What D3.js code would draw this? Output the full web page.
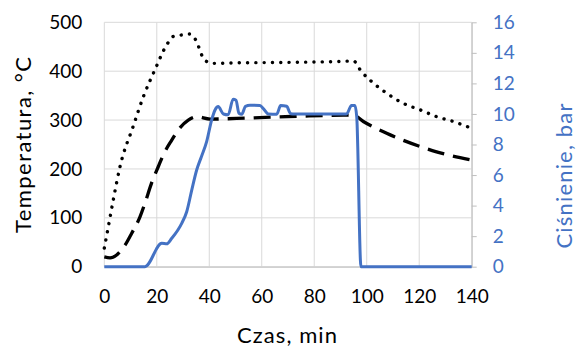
<!DOCTYPE html>
<html>
<head>
<meta charset="utf-8">
<script src="https://cdn.jsdelivr.net/npm/d3@7"></script>
<style>
  html, body { margin: 0; padding: 0; background: #fff; }
  svg { display: block; font-family: Lato, "Open Sans", sans-serif; }
</style>
</head>
<body>
<svg id="chart" width="577" height="349"></svg>
<script>
// ---- data ----
const xTicks = [0, 20, 40, 60, 80, 100, 120, 140];
const tempTicks = [0, 100, 200, 300, 400, 500];
const pressTicks = [0, 2, 4, 6, 8, 10, 12, 14, 16];

const dottedTime = [0, 1.3, 3.4, 6, 11, 14.9, 19.3, 23.8, 26.3, 29.5, 32.4, 34.5, 35.8, 36.8, 38.4, 41.3, 50, 70, 90, 94.9, 98, 101.2, 107.6, 114, 120.3, 126.6, 133, 140];
const dottedTemp = [38, 75, 136, 205, 287, 348, 403, 454, 471, 474, 476, 467, 452, 437, 422, 416, 417, 418, 420, 421, 399, 382, 355, 334, 321, 307, 297, 283];

const dashedTime = [0, 2.2, 4.7, 7.9, 10.4, 13.6, 15.5, 18, 20.6, 22.5, 25.7, 28.2, 32, 35.2, 40.3, 54.2, 74.6, 91, 94.9, 98.7, 107.6, 120.3, 126.6, 140];
const dashedTemp = [20, 18, 24, 44, 68, 102, 130, 171, 205, 229, 259, 280, 300, 307, 302, 304, 308, 310, 310, 297, 273, 246, 235, 218];

const pressTime = [0, 15.5, 21.9, 23.8, 25.7, 29.5, 31.4, 33.3, 35.2, 37, 39, 40.9, 42.2, 43.4, 45.4, 47.2, 49.1, 50.2, 51.3, 52.4, 53.8, 55.5, 59.3, 60.6, 62.5, 65.7, 67.2, 69.5, 71, 72.7, 92.3, 94.2, 95.5, 96.2, 97.8, 140];
const pressVal = [0, 0, 1.53, 1.5, 1.86, 2.84, 3.6, 5.0, 6.33, 7.2, 8.19, 9.6, 10.26, 10.48, 10.0, 9.95, 10.96, 10.9, 10.05, 9.98, 10.5, 10.57, 10.55, 10.35, 10.0, 9.98, 10.55, 10.5, 10.02, 10.0, 10.0, 10.55, 10.55, 9.8, 0, 0];

// ---- layout ----
const pLeft = 104.3, pRight = 471.7, pTop = 22.3, pBottom = 266.7;
const svg = d3.select("#chart");

const x = d3.scaleLinear().domain([0, 140]).range([pLeft, pRight]);
const yT = d3.scaleLinear().domain([0, 500]).range([pBottom, pTop]);
const yP = d3.scaleLinear().domain([0, 16]).range([pBottom, pTop]);

const gridColor = "#d9d9d9";
const axisColor = "#bfbfbf";
const blue = "#4472C4";
const fontSize = 19;

// gridlines
svg.append("g").selectAll("line").data(tempTicks).join("line")
  .attr("x1", pLeft).attr("x2", pRight)
  .attr("y1", d => yT(d)).attr("y2", d => yT(d))
  .attr("stroke", gridColor).attr("stroke-width", 1);
svg.append("g").selectAll("line").data(xTicks).join("line")
  .attr("x1", d => x(d)).attr("x2", d => x(d))
  .attr("y1", pTop).attr("y2", pBottom)
  .attr("stroke", gridColor).attr("stroke-width", 1);

// bottom axis (labels only, gray line)
const xAxis = d3.axisBottom(x).tickValues(xTicks).tickSize(0).tickPadding(23).tickFormat(d3.format("d"));
const gx = svg.append("g").attr("transform", `translate(0,${pBottom})`).call(xAxis);
gx.select(".domain").attr("stroke", axisColor);
gx.selectAll("text").attr("font-size", fontSize).attr("fill", "#000").attr("font-family", "Lato, 'Open Sans', sans-serif");

// left axis
const yAxisL = d3.axisLeft(yT).tickValues(tempTicks).tickSize(0).tickPadding(22).tickFormat(d3.format("d"));
const gl = svg.append("g").attr("transform", `translate(${pLeft},0)`).call(yAxisL);
gl.select(".domain").remove();
gl.selectAll("text").attr("font-size", fontSize).attr("fill", "#000").attr("font-family", "Lato, 'Open Sans', sans-serif");

// right axis
const yAxisR = d3.axisRight(yP).tickValues(pressTicks).tickSize(5).tickSizeOuter(0).tickPadding(16).tickFormat(d3.format("d"));
const gr = svg.append("g").attr("transform", `translate(${pRight},0)`).call(yAxisR);
gr.select(".domain").attr("stroke", axisColor);
gr.selectAll(".tick line").attr("stroke", axisColor);
gr.selectAll("text").attr("font-size", fontSize).attr("fill", blue).attr("font-family", "Lato, 'Open Sans', sans-serif");

// series
const lineT = d3.line().x(d => x(d[0])).y(d => yT(d[1])).curve(d3.curveMonotoneX);
const lineP = d3.line().x(d => x(d[0])).y(d => yP(d[1])).curve(d3.curveMonotoneX);

svg.append("path")
  .datum(dashedTime.map((t, i) => [t, dashedTemp[i]]))
  .attr("d", lineT).attr("fill", "none").attr("stroke", "#000")
  .attr("stroke-width", 3.3).attr("stroke-dasharray", "17 9");

svg.append("path")
  .datum(dottedTime.map((t, i) => [t, dottedTemp[i]]))
  .attr("d", lineT).attr("fill", "none").attr("stroke", "#000")
  .attr("stroke-width", 3.4).attr("stroke-linecap", "round").attr("stroke-dasharray", "0.1 8.2");

svg.append("path")
  .datum(pressTime.map((t, i) => [t, pressVal[i]]))
  .attr("d", lineP).attr("fill", "none").attr("stroke", blue)
  .attr("stroke-width", 3).attr("stroke-linejoin", "round");

// titles
svg.append("text").attr("x", 287).attr("y", 343).attr("text-anchor", "middle")
  .attr("font-size", 22).attr("fill", "#000")
  .attr("textLength", 100).attr("lengthAdjust", "spacing").text("Czas, min");
svg.append("text").attr("transform", "translate(31,145) rotate(-90)").attr("text-anchor", "middle")
  .attr("font-size", 22).attr("fill", "#000")
  .attr("textLength", 176).attr("lengthAdjust", "spacing").text("Temperatura, °C");
svg.append("text").attr("transform", "translate(572,176) rotate(-90)").attr("text-anchor", "middle")
  .attr("font-size", 22).attr("fill", blue)
  .attr("textLength", 145).attr("lengthAdjust", "spacing").text("Ciśnienie, bar");
</script>
</body>
</html>
